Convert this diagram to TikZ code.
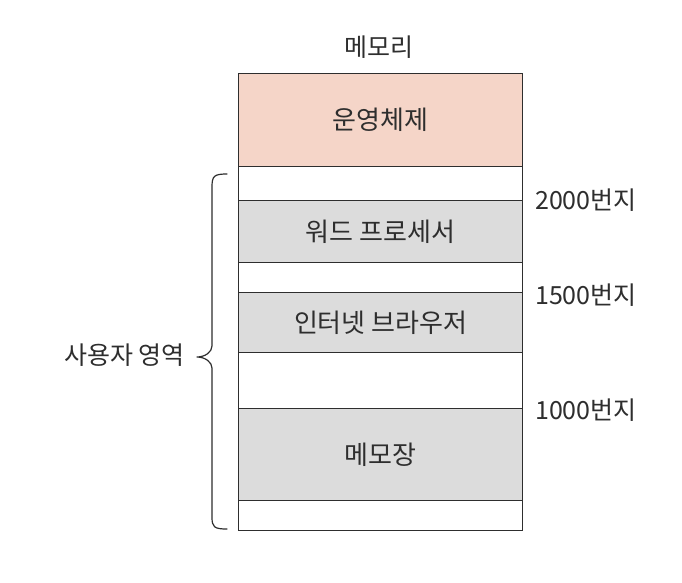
\documentclass[tikz,border=0pt]{standalone}
\usepackage{fontspec}
\newfontfamily\kr{Noto Sans CJK KR}
\definecolor{osfill}{HTML}{F5D5C8}
\definecolor{procfill}{HTML}{DCDCDC}
\definecolor{ink}{HTML}{2E2E2E}
\tikzset{
  seg/.style={draw=ink, line width=1.3pt, minimum width=284pt, inner sep=0pt, anchor=north west, font=\kr\fontsize{26}{30}\selectfont, text=ink},
  lbl/.style={font=\kr\fontsize{25}{28}\selectfont, text=ink, inner sep=0pt},
  bracepath/.style={draw=ink, line width=1.2pt, line cap=round, line join=round},
}
\begin{document}
\begin{tikzpicture}[x=1pt,y=-1pt]
\useasboundingbox (0,0) rectangle (682,582);
\fill[white] (0,0) rectangle (682,582);
\node[lbl] (title) at (379,47) {메모리};
\node[seg, fill=osfill, minimum height=93pt] (os) at (238,73) {운영체제};
\node[seg, fill=white, minimum height=34pt] (g1) at (238,166) {};
\node[seg, fill=procfill, minimum height=62pt] (word) at (238,200) {워드 프로세서};
\node[seg, fill=white, minimum height=30pt] (g2) at (238,262) {};
\node[seg, fill=procfill, minimum height=60pt] (web) at (238,292) {인터넷 브라우저};
\node[seg, fill=white, minimum height=56pt] (g3) at (238,352) {};
\node[seg, fill=procfill, minimum height=92pt] (memo) at (238,408) {메모장};
\node[seg, fill=white, minimum height=30pt] (g4) at (238,500) {};
\node[lbl, anchor=west] (a2000) at (535,200) {2000번지};
\node[lbl, anchor=west] (a1500) at (535,295) {1500번지};
\node[lbl, anchor=west] (a1000) at (535,410) {1000번지};
\coordinate (btop) at (227,174);
\coordinate (bbot) at (227,529);
\coordinate (btip) at (197,357);
\draw[bracepath] (btop) .. controls (214,174) and (212,176) .. (212,187)
  -- (212,346) .. controls (212,352) and (205,357) .. (btip)
  .. controls (205,357) and (212,362) .. (212,368)
  -- (212,517) .. controls (212,527) and (214,529) .. (bbot);
\node[lbl, anchor=east] (user) at (185,355) {사용자 영역};
\end{tikzpicture}
\end{document}
